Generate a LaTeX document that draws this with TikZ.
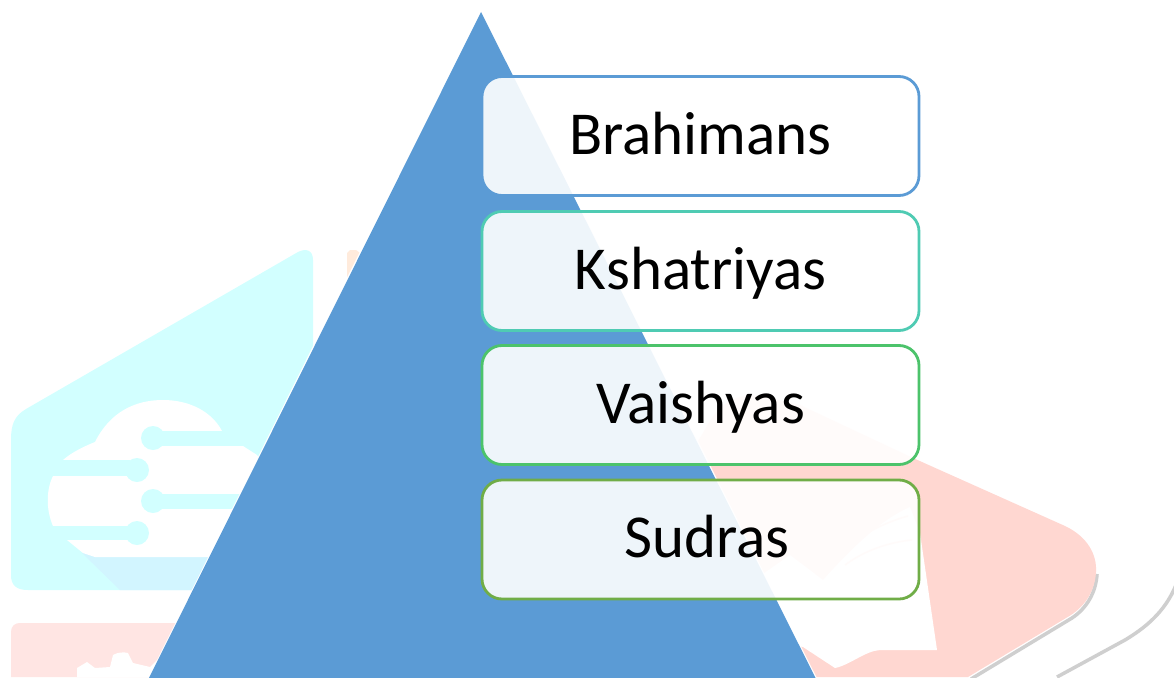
\documentclass[tikz,border=0pt]{standalone}
\usepackage{fontspec}
\setmainfont{Carlito}
\definecolor{tribl}{HTML}{5B9BD5}
\definecolor{cyanwm}{HTML}{D2FFFF}
\definecolor{cyanshade}{HTML}{D2F5FF}
\definecolor{pinkwm}{HTML}{FFE5E3}
\definecolor{redwm}{HTML}{FFD7D1}
\definecolor{orangewm}{HTML}{FFEBDC}
\definecolor{graywm}{HTML}{CFCFCF}
\definecolor{edgeA}{HTML}{5B9BD5}
\definecolor{edgeB}{HTML}{4FCBB3}
\definecolor{edgeC}{HTML}{4CC36B}
\definecolor{edgeD}{HTML}{70AD47}
\tikzset{
  tierbox/.style={draw=#1, line width=2.8pt, rounded corners=20pt, fill=white,
    fill opacity=.9, text opacity=1, draw opacity=1,
    minimum width=437pt, minimum height=119pt, inner sep=0pt, outer sep=0pt,
    text height=46pt, text depth=10pt, text=black,
    font=\fontsize{61}{61}\selectfont},
  band/.style={fill=cyanwm, draw=none},
}
\begin{document}
\begin{tikzpicture}[x=1pt,y=-1pt]
\useasboundingbox (0,0) rectangle (1174,677);
\fill[white] (0,0) rectangle (1174,677);
\begin{scope}
\clip (0,0) rectangle (1174,677);
% orange watermark piece
\fill[orangewm] (347,253) -- (350,250) -- (356,250) -- (360,253) -- (350,277) -- (347,277) -- cycle;
% cyan watermark
\fill[cyanwm] (11,440) .. controls (11,425) and (14,416) .. (26,409)
  -- (298,252) .. controls (306,248) and (313,250) .. (313,260)
  -- (313,400) -- (200,590) -- (28,590) .. controls (16,590) and (11,585) .. (11,575) -- cycle;
\fill[cyanshade] (82,553) -- (120,590) -- (195,590) -- (215,550) -- cycle;
% white cloud
\fill[white] (63,460) .. controls (72,452) and (85,446) .. (95,442)
  .. controls (110,412) and (135,400) .. (163,400)
  .. controls (190,400) and (212,412) .. (222,431)
  -- (243,446) -- (257,455) -- (285,500) -- (270,557) -- (95,557)
  -- (83,553) -- (67,540) -- (53,526) .. controls (46,510) and (46,490) .. (53,476) -- cycle;
\fill[band] (40,460) rectangle (130,476);
\fill[band] (40,526) rectangle (130,540);
\fill[band] (153,431) rectangle (250,446);
\fill[band] (153,494) rectangle (300,509);
\fill[band] (137,470) circle (12);
\fill[band] (137,533) circle (12);
\fill[band] (153,438) circle (12);
\fill[band] (153,501) circle (12);
% pink bottom-left watermark
\fill[pinkwm] (11,677) -- (11,632) .. controls (11,626) and (15,623) .. (20,623) -- (200,623) -- (200,677) -- cycle;
\fill[white] (77,677) -- (77,668) -- (87,662) -- (95,668) -- (110,667) -- (113,655)
  .. controls (118,652) and (124,652) .. (128,653) -- (133,663) -- (150,667) -- (157,660) -- (175,660) -- (175,677) -- cycle;
% gray shadows
\draw[graywm, line width=3.5pt] (1097,574) .. controls (1096,592) and (1087,608) .. (1072,618) -- (971,679);
\draw[graywm, line width=3.5pt] (1176,585) .. controls (1165,612) and (1145,628) .. (1125,640) -- (1057,677);
% red watermark
\fill[redwm] (680,470) -- (703,433) .. controls (715,410) and (730,392) .. (760,396)
  -- (800,405) -- (913,458) -- (1065,526)
  .. controls (1088,537) and (1097,555) .. (1096,572)
  .. controls (1095,590) and (1086,605) .. (1071,615)
  -- (968,677) -- (780,677) -- cycle;
% book (white)
\fill[white] (740,590) -- (790,555) -- (823,580) .. controls (850,550) and (880,520) .. (910,507)
  -- (920,533) -- (937,650) -- (880,650) .. controls (865,651) and (850,665) .. (835,668) -- (803,647) -- (770,640) -- cycle;
\draw[redwm, line width=1.5pt] (822,565) .. controls (845,545) and (875,525) .. (908,516);
\draw[redwm, line width=1.5pt] (845,565) .. controls (865,550) and (890,542) .. (912,540);
% pyramid
\draw[white, line width=1.6pt] (488,24) -- (822,690) -- (143,690);
\draw[white, line width=1.6pt] (143,690) -- (474,24);
\fill[tribl] (481,12) -- (821.6,690) -- (143,690) -- cycle;
\end{scope}
% tier boxes
\node[tierbox=edgeA] (brahimans) at (700.5,136) {Brahimans};
\node[tierbox=edgeB] (kshatriyas) at (700.5,271) {Kshatriyas};
\node[tierbox=edgeC] (vaishyas) at (700.5,405) {Vaishyas};
\node[tierbox=edgeD] (sudras) at (700.5,539.5) {\hspace*{13pt}Sudras};
\end{tikzpicture}
\end{document}
